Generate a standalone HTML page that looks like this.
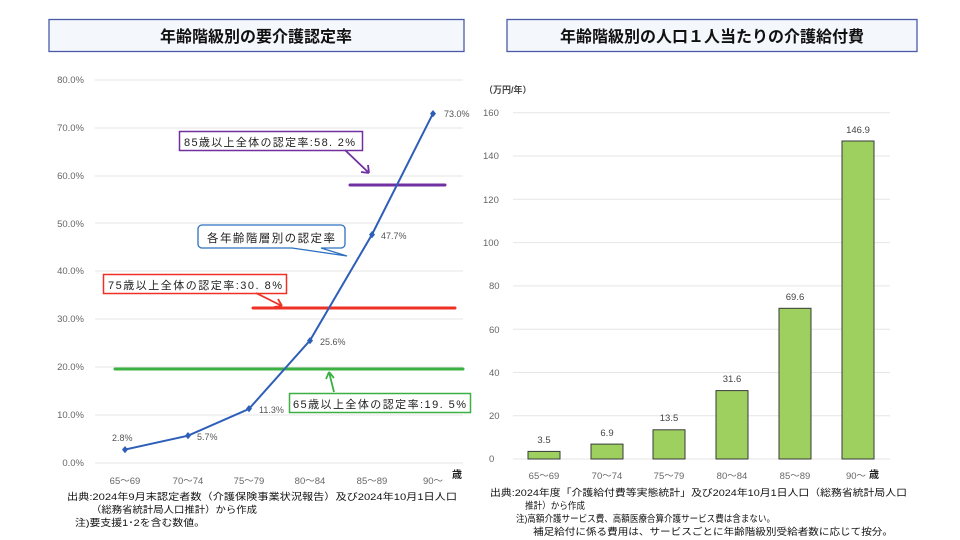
<!DOCTYPE html>
<html><head><meta charset="utf-8"><style>
body{margin:0;background:#fff;}
svg{display:block;}
text{font-family:"Liberation Sans","Noto Sans CJK JP",sans-serif;}
</style></head><body>
<svg width="960" height="540" xmlns="http://www.w3.org/2000/svg">
<rect width="960" height="540" fill="#fff"/>
<rect x="49" y="19.5" width="415" height="32" fill="#f4f7fc" stroke="#4a5aa8" stroke-width="1.3"/>
<text x="256" y="42" text-anchor="middle" font-size="16" font-weight="bold" fill="#111">年齢階級別の要介護認定率</text>
<rect x="507" y="19.5" width="410" height="32" fill="#f4f7fc" stroke="#4a5aa8" stroke-width="1.3"/>
<text x="712" y="42" text-anchor="middle" font-size="16" font-weight="bold" fill="#111">年齢階級別の人口１人当たりの介護給付費</text>

<g stroke="#e6e6e6" stroke-width="1">
<line x1="95" x2="463" y1="80" y2="80"/><line x1="95" x2="463" y1="128" y2="128"/>
<line x1="95" x2="463" y1="176" y2="176"/><line x1="95" x2="463" y1="223" y2="223"/>
<line x1="95" x2="463" y1="271" y2="271"/><line x1="95" x2="463" y1="319" y2="319"/>
<line x1="95" x2="463" y1="367" y2="367"/><line x1="95" x2="463" y1="415" y2="415"/>
<line x1="95" x2="463" y1="463" y2="463"/>
</g>
<g font-size="9.5" fill="#666" text-anchor="end">
<text x="84" y="83">80.0%</text><text x="84" y="131">70.0%</text><text x="84" y="179">60.0%</text>
<text x="84" y="227">50.0%</text><text x="84" y="274">40.0%</text><text x="84" y="322">30.0%</text>
<text x="84" y="370">20.0%</text><text x="84" y="418">10.0%</text><text x="84" y="466">0.0%</text>
</g>
<g font-size="9.5" fill="#666" text-anchor="middle">
<text x="125" y="484">65〜69</text><text x="188" y="484">70〜74</text><text x="249" y="484">75〜79</text>
<text x="310" y="484">80〜84</text><text x="372" y="484">85〜89</text><text x="433" y="484">90〜</text>
</g>
<text x="452" y="478" font-size="10" font-weight="bold" fill="#222">歳</text>

<line x1="350" x2="445" y1="185" y2="185" stroke="#7030a0" stroke-width="3" stroke-linecap="round"/>
<line x1="253" x2="455" y1="308" y2="308" stroke="#ee3124" stroke-width="3" stroke-linecap="round"/>
<line x1="115" x2="463" y1="369" y2="369" stroke="#3cb043" stroke-width="3" stroke-linecap="round"/>

<polyline points="125,449.6 188,435.7 249,408.9 310,340.4 372,234.5 433,113.4" fill="none" stroke="#2e5fb8" stroke-width="2"/>
<g fill="#2e5fb8">
<path d="M125,446 l3,3.6 -3,3.6 -3,-3.6z"/><path d="M188,432 l3,3.6 -3,3.6 -3,-3.6z"/>
<path d="M249,405 l3,3.6 -3,3.6 -3,-3.6z"/><path d="M310,337 l3,3.6 -3,3.6 -3,-3.6z"/>
<path d="M372,231 l3,3.6 -3,3.6 -3,-3.6z"/><path d="M433,110 l3,3.6 -3,3.6 -3,-3.6z"/>
</g>
<g font-size="9" fill="#555">
<text x="112" y="441">2.8%</text><text x="197" y="440">5.7%</text><text x="259" y="413">11.3%</text>
<text x="320" y="345">25.6%</text><text x="381" y="239">47.7%</text><text x="444" y="117">73.0%</text>
</g>

<rect x="179.5" y="131.5" width="183" height="19" fill="#fff" stroke="#7030a0" stroke-width="1.5"/>
<text x="184" y="146" font-size="11" fill="#222" textLength="171" lengthAdjust="spacing">85歳以上全体の認定率:58. 2%</text>
<path d="M345,150 L369,173 M369,173 l-8,-1 M369,173 l-1,-8" stroke="#7030a0" stroke-width="1.8" fill="none"/>

<path d="M202,225 H341 a4,4 0 0 1 4,4 V244 a4,4 0 0 1 -4,4 H321 L347,256 L292,248 H202 a4,4 0 0 1 -4,-4 V229 a4,4 0 0 1 4,-4z" fill="#fff" stroke="#2e6fc0" stroke-width="1.3"/>
<text x="207" y="242" font-size="11.5" fill="#222" textLength="128" lengthAdjust="spacing">各年齢階層別の認定率</text>

<rect x="103.5" y="274.5" width="183" height="19" fill="#fff" stroke="#ee3124" stroke-width="1.5"/>
<text x="108" y="289" font-size="11" fill="#222" textLength="174" lengthAdjust="spacing">75歳以上全体の認定率:30. 8%</text>
<path d="M256,293 L282,306 M282,306 l-8,1 M282,306 l-4,-7" stroke="#ee3124" stroke-width="1.8" fill="none"/>

<rect x="289.5" y="393.5" width="181" height="19" fill="#fff" stroke="#3cb043" stroke-width="1.5"/>
<text x="293" y="408" font-size="11" fill="#222" textLength="173" lengthAdjust="spacing">65歳以上全体の認定率:19. 5%</text>
<path d="M334,392 L329,372 M329,372 l-3,7 M329,372 l5,6" stroke="#3cb043" stroke-width="1.8" fill="none"/>

<g font-size="9.5" fill="#111" lengthAdjust="spacingAndGlyphs">
<text x="67" y="500" textLength="390" lengthAdjust="spacingAndGlyphs">出典:2024年9月末認定者数（介護保険事業状況報告）及び2024年10月1日人口</text>
<text x="91" y="513" textLength="166" lengthAdjust="spacingAndGlyphs">（総務省統計局人口推計）から作成</text>
<text x="75" y="526" textLength="130" lengthAdjust="spacingAndGlyphs">注)要支援1･2を含む数値。</text>
</g>

<text x="484" y="93" font-size="9" font-weight="bold" fill="#444">（万円/年）</text>
<g stroke="#e6e6e6" stroke-width="1">
<line x1="513" x2="890" y1="112.7" y2="112.7"/><line x1="513" x2="890" y1="156" y2="156"/>
<line x1="513" x2="890" y1="199.3" y2="199.3"/><line x1="513" x2="890" y1="242.6" y2="242.6"/>
<line x1="513" x2="890" y1="285.9" y2="285.9"/><line x1="513" x2="890" y1="329.2" y2="329.2"/>
<line x1="513" x2="890" y1="372.5" y2="372.5"/><line x1="513" x2="890" y1="415.8" y2="415.8"/>
<line x1="513" x2="890" y1="459" y2="459"/>
</g>
<g font-size="9.5" fill="#666">
<text x="483" y="116">160</text><text x="483" y="159">140</text><text x="483" y="203">120</text>
<text x="483" y="246">100</text><text x="489" y="289">80</text><text x="489" y="333">60</text>
<text x="489" y="376">40</text><text x="489" y="419">20</text><text x="489" y="462">0</text>
</g>
<g fill="#9dd05f" stroke="#3a3a3a" stroke-width="1">
<rect x="528" y="451.4" width="32" height="7.6"/>
<rect x="591" y="444.1" width="32" height="14.9"/>
<rect x="653" y="429.8" width="32" height="29.2"/>
<rect x="716" y="390.6" width="32" height="68.4"/>
<rect x="779" y="308.3" width="32" height="150.7"/>
<rect x="842" y="141" width="32" height="318"/>
</g>
<g font-size="9.5" fill="#444" text-anchor="middle">
<text x="544" y="443">3.5</text><text x="607" y="436">6.9</text><text x="669" y="421">13.5</text>
<text x="732" y="382">31.6</text><text x="795" y="300">69.6</text><text x="858" y="133">146.9</text>
</g>
<g font-size="9.5" fill="#666" text-anchor="middle">
<text x="544" y="479">65〜69</text><text x="607" y="479">70〜74</text><text x="669" y="479">75〜79</text>
<text x="732" y="479">80〜84</text><text x="795" y="479">85〜89</text><text x="856" y="479">90〜</text>
</g>
<text x="869" y="478" font-size="10" font-weight="bold" fill="#222">歳</text>
<g font-size="9.5" fill="#111">
<text x="490" y="496" textLength="417" lengthAdjust="spacingAndGlyphs">出典:2024年度「介護給付費等実態統計」及び2024年10月1日人口（総務省統計局人口</text>
<text x="525" y="509" textLength="60" lengthAdjust="spacingAndGlyphs">推計）から作成</text>
<text x="516" y="522" textLength="259" lengthAdjust="spacingAndGlyphs">注)高額介護サービス費、高額医療合算介護サービス費は含まない。</text>
<text x="533" y="535" textLength="360" lengthAdjust="spacingAndGlyphs">補足給付に係る費用は、サービスごとに年齢階級別受給者数に応じて按分。</text>
</g>
</svg>
</body></html>
